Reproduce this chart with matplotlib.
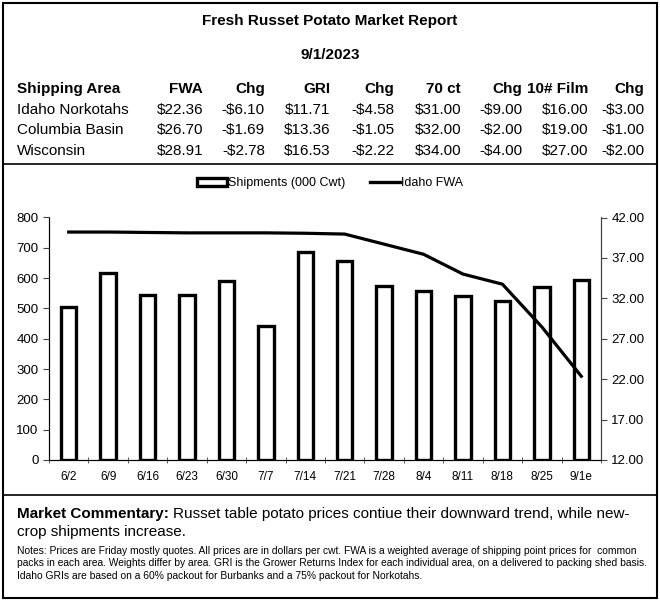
import numpy as np
import matplotlib.pyplot as plt
from matplotlib.patches import Rectangle
from matplotlib.lines import Line2D

plt.rcParams['font.family'] = ['Liberation Sans', 'DejaVu Sans']
plt.rcParams['text.parse_math'] = False

# chart data
weeks = ['6/2', '6/9', '6/16', '6/23', '6/30', '7/7', '7/14', '7/21',
         '7/28', '8/4', '8/11', '8/18', '8/25', '9/1e']
shipments = [506, 616, 545, 545, 592, 442, 685, 658, 574, 556, 542, 525, 572, 594]
idaho_fwa = [40.2, 40.2, 40.15, 40.1, 40.1, 40.1, 40.05, 39.95, 38.7, 37.45, 35.0, 33.75, 28.46, 22.36]

# table data
table_header = ['Shipping Area', 'FWA', 'Chg', 'GRI', 'Chg', '70 ct', 'Chg', '10# Film', 'Chg']
areas = ['Idaho Norkotahs', 'Columbia Basin', 'Wisconsin']
fwa = ['$22.36', '$26.70', '$28.91']
fwa_chg = ['-$6.10', '-$1.69', '-$2.78']
gri = ['$11.71', '$13.36', '$16.53']
gri_chg = ['-$4.58', '-$1.05', '-$2.22']
ct70 = ['$31.00', '$32.00', '$34.00']
ct70_chg = ['-$9.00', '-$2.00', '-$4.00']
film = ['$16.00', '$19.00', '$27.00']
film_chg = ['-$3.00', '-$1.00', '-$2.00']

W, H = 660, 605
fig = plt.figure(figsize=(W / 100, H / 100), dpi=100)

def fx(px):
    return px / W

def fy(py):
    return 1 - py / H

# frame and dividers
fig.patches.append(Rectangle((fx(3), fy(598)), fx(654), 595 / H, transform=fig.transFigure,
                             fill=False, edgecolor='black', linewidth=1.5))
for yy in [164, 495]:
    fig.add_artist(Line2D([fx(3), fx(657)], [fy(yy), fy(yy)], transform=fig.transFigure,
                          color='black', linewidth=1.2))

# title block
fig.text(0.5, fy(21), 'Fresh Russet Potato Market Report', ha='center', va='center',
         fontsize=11, fontweight='bold')
fig.text(0.5, fy(55), '9/1/2023', ha='center', va='center', fontsize=11, fontweight='bold')

# table
col_right = [None, 203, 265, 330, 394, 461, 522, 588, 644]
cols = [areas, fwa, fwa_chg, gri, gri_chg, ct70, ct70_chg, film, film_chg]
fig.text(fx(17), fy(89), table_header[0], ha='left', va='center', fontsize=11, fontweight='bold')
for j in range(1, len(table_header)):
    fig.text(fx(col_right[j]), fy(89), table_header[j], ha='right', va='center',
             fontsize=11, fontweight='bold')
row_y = [110, 130, 151]
for i in range(len(areas)):
    fig.text(fx(17), fy(row_y[i]), areas[i], ha='left', va='center', fontsize=11)
    for j in range(1, len(cols)):
        fig.text(fx(col_right[j]), fy(row_y[i]), cols[j][i], ha='right', va='center', fontsize=11)

# chart
ax = fig.add_axes([fx(49), fy(460), fx(601 - 49), (460 - 217.5) / H])
x = np.arange(len(weeks))
ax.bar(x, shipments, width=0.39, facecolor='white', edgecolor='black', linewidth=2.4, zorder=2)
ax.set_xlim(-0.5, len(weeks) - 0.5)
ax.set_ylim(0, 800)
ax.set_yticks(range(0, 801, 100))
ax.set_xticks(x)
ax.set_xticklabels(weeks, fontsize=8.5)
ax.set_xticks(np.arange(-0.5, len(weeks), 1), minor=True)
ax.tick_params(axis='x', which='major', length=0, pad=8)
ax.tick_params(axis='x', which='minor', length=5, direction='inout', color='#444444')
ax.tick_params(axis='y', labelsize=9.5, length=4, direction='out', color='#444444')
ax.spines['top'].set_visible(False)
for s in ['left', 'right', 'bottom']:
    ax.spines[s].set_color('#444444')

ax2 = ax.twinx()
ax2.plot(x, idaho_fwa, color='black', linewidth=2.3, zorder=3)
ax2.set_ylim(12, 42)
ax2.set_yticks(np.arange(12, 43, 5))
ax2.set_yticklabels(['%.2f' % v for v in np.arange(12, 43, 5)])
ax2.tick_params(axis='y', labelsize=9.5, length=4, direction='out', color='#444444')
ax2.spines['top'].set_visible(False)
ax2.spines['right'].set_color('#444444')

handles = [Rectangle((0, 0), 1, 1, facecolor='white', edgecolor='black', linewidth=2.4),
           Line2D([0], [0], color='black', linewidth=2.4)]
fig.legend(handles, ['Shipments (000 Cwt)', 'Idaho FWA'], loc='center',
           bbox_to_anchor=(0.5, fy(183)), ncol=2, frameon=False, fontsize=9,
           handlelength=2.4, handleheight=0.6, handletextpad=0.1, columnspacing=2.0)

# commentary
bold = fig.text(fx(17), fy(514), 'Market Commentary:', ha='left', va='center', fontsize=11,
                fontweight='bold')
renderer = fig.canvas.get_renderer()
bb = bold.get_window_extent(renderer=renderer)
fig.text(fx(bb.x1 + 4), fy(514), 'Russet table potato prices contiue their downward trend, while new-',
         ha='left', va='center', fontsize=11)
fig.text(fx(17), fy(532), 'crop shipments increase.', ha='left', va='center', fontsize=11)
notes = ['Notes: Prices are Friday mostly quotes. All prices are in dollars per cwt. FWA is a weighted average of shipping point prices for  common',
         'packs in each area. Weights differ by area. GRI is the Grower Returns Index for each individual area, on a delivered to packing shed basis.',
         'Idaho GRIs are based on a 60% packout for Burbanks and a 75% packout for Norkotahs.']
for k, line in enumerate(notes):
    fig.text(fx(17), fy(551 + 12.5 * k), line, ha='left', va='center', fontsize=7.35)

fig.savefig('out.png', dpi=100)
